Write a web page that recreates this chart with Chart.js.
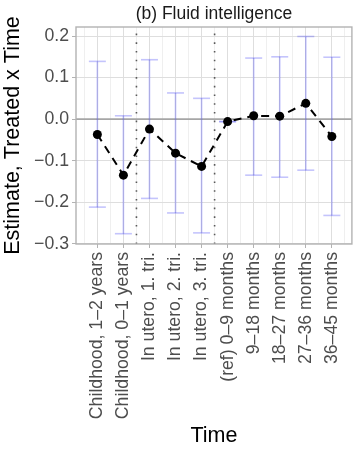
<!DOCTYPE html>
<html>
<head>
<meta charset="utf-8">
<script src="https://cdn.jsdelivr.net/npm/chart.js@4.4.0/dist/chart.umd.min.js"></script>
<style>
  html, body { margin: 0; padding: 0; background: #fff; }
  canvas { display: block; }
</style>
</head>
<body>
<canvas id="c" width="362" height="449"></canvas>
<script>
// Event-study coefficients for fluid intelligence, with 95% intervals
const categories = [
  "Childhood, 1–2 years", "Childhood, 0–1 years",
  "In utero, 1. tri.", "In utero, 2. tri.", "In utero, 3. tri.",
  "(ref) 0–9 months", "9–18 months", "18–27 months", "27–36 months", "36–45 months"
];
const estimates = [-0.037, -0.135, -0.024, -0.082, -0.114, -0.006, 0.008, 0.007, 0.038, -0.042];
const ciUpper   = [ 0.139,  0.008,  0.143,  0.063,  0.050, -0.006, 0.147, 0.150, 0.199,  0.149];
const ciLower   = [-0.212, -0.276, -0.191, -0.226, -0.274, -0.006, -0.135, -0.140, -0.123, -0.232];
const yTicks = [-0.3, -0.25, -0.2, -0.15, -0.1, -0.05, 0, 0.05, 0.1, 0.15, 0.2];
const yLabelTicks = [-0.3, -0.2, -0.1, 0, 0.1, 0.2];

const FONT = '"Liberation Sans", Arial, Helvetica, sans-serif';
const BAR_COLOR = 'rgba(70, 70, 245, 0.32)';

// group of each period: a dotted separator is drawn where the group changes
function groupOf(label) {
  if (label.startsWith('Childhood')) return 'childhood';
  if (label.startsWith('In utero')) return 'utero';
  return 'after';
}

const isMajorY = v => yLabelTicks.some(t => Math.abs(t - v) < 1e-9);
const isMajorX = v => Math.abs(v - Math.round(v)) < 1e-9;

const barData = [];
const capData = [];
categories.forEach((c, i) => {
  barData.push({ x: i, y: ciLower[i] }, { x: i, y: ciUpper[i] }, { x: i, y: null });
  capData.push({ x: i, y: ciLower[i] }, { x: i, y: ciUpper[i] });
});
const pointData = estimates.map((v, i) => ({ x: i, y: v }));

const panelDecor = {
  id: 'panelDecor',
  beforeDatasetsDraw(chart) {
    const { ctx, chartArea: a, scales: { x, y } } = chart;
    ctx.save();
    // reference line at zero
    const y0 = y.getPixelForValue(0);
    ctx.strokeStyle = '#a6a6a6';
    ctx.lineWidth = 1.6;
    ctx.beginPath(); ctx.moveTo(a.left, y0); ctx.lineTo(a.right, y0); ctx.stroke();
    // dotted separators between period groups
    ctx.strokeStyle = '#5a5a5a';
    ctx.lineWidth = 1.6;
    ctx.setLineDash([1.6, 7.1]);
    for (let i = 1; i < categories.length; i++) {
      if (groupOf(categories[i]) !== groupOf(categories[i - 1])) {
        const px = x.getPixelForValue(i - 0.5);
        ctx.beginPath(); ctx.moveTo(px, a.bottom); ctx.lineTo(px, a.top); ctx.stroke();
      }
    }
    ctx.restore();
  },
  afterDraw(chart) {
    const { ctx, chartArea: a } = chart;
    ctx.save();
    ctx.strokeStyle = '#b3b3b3';
    ctx.lineWidth = 1.4;
    ctx.strokeRect(a.left, a.top, a.right - a.left, a.bottom - a.top);
    // panel title
    ctx.fillStyle = '#1a1a1a';
    ctx.font = '17.5px ' + FONT;
    ctx.textAlign = 'center';
    ctx.textBaseline = 'alphabetic';
    ctx.fillText('(b) Fluid intelligence', (a.left + a.right) / 2, 18.5);
    ctx.restore();
  }
};

new Chart(document.getElementById('c'), {
  type: 'line',
  data: {
    datasets: [
      {
        data: barData, borderColor: BAR_COLOR, borderWidth: 1.6,
        pointRadius: 0, spanGaps: false, order: 3
      },
      {
        data: capData, showLine: false, pointStyle: 'line', pointRadius: 8.5,
        pointBorderColor: BAR_COLOR, pointBorderWidth: 1.6, order: 2
      },
      {
        data: pointData, borderColor: '#000', borderWidth: 2, borderDash: [8, 6],
        tension: 0, pointRadius: 4.5, pointBackgroundColor: '#000',
        pointBorderColor: '#000', pointBorderWidth: 0, order: 1
      }
    ]
  },
  options: {
    responsive: false,
    animation: false,
    devicePixelRatio: 1,
    layout: { padding: { top: 27, right: 2, left: 0, bottom: 0 } },
    plugins: { legend: { display: false }, tooltip: { enabled: false } },
    scales: {
      x: {
        type: 'linear',
        min: -0.82, max: 9.77,
        afterBuildTicks(axis) {
          const t = [];
          for (let i = -1; i < categories.length; i++) {
            if (i >= 0) t.push({ value: i });
            t.push({ value: i + 0.5 });
          }
          axis.ticks = t;
        },
        afterFit(axis) {
          axis.height = 205;
          axis.paddingLeft = 0;
          axis.paddingRight = 0;
        },
        ticks: {
          autoSkip: false, minRotation: 90, maxRotation: 90, padding: 4,
          color: '#4d4d4d', font: { family: FONT, size: 17.7 },
          callback: v => isMajorX(v) ? categories[Math.round(v)] : ''
        },
        grid: {
          color: c => isMajorX(c.tick.value) ? '#dedede' : '#efefef',
          lineWidth: 1,
          tickColor: c => isMajorX(c.tick.value) ? '#b3b3b3' : 'rgba(0,0,0,0)',
          tickLength: 4
        },
        border: { display: false },
        title: {
          display: true, text: 'Time', color: '#000',
          font: { family: FONT, size: 21.5 }, padding: { top: 0, bottom: 0 }
        }
      },
      y: {
        type: 'linear',
        min: -0.3008, max: 0.2218,
        afterBuildTicks(axis) { axis.ticks = yTicks.map(v => ({ value: v })); },
        afterFit(axis) {
          axis.width = 76;
          axis.paddingTop = 0;
          axis.paddingBottom = 0;
        },
        ticks: {
          padding: 3, color: '#4d4d4d', font: { family: FONT, size: 17.7 },
          callback: v => isMajorY(v) ? v.toFixed(1).replace('-', '\u2212') : ''
        },
        grid: {
          color: c => isMajorY(c.tick.value) ? '#dedede' : '#efefef',
          lineWidth: 1,
          tickColor: c => isMajorY(c.tick.value) ? '#b3b3b3' : 'rgba(0,0,0,0)',
          tickLength: 4
        },
        border: { display: false },
        title: {
          display: true, text: 'Estimate, Treated x Time', color: '#000',
          font: { family: FONT, size: 21.5 }, padding: { top: 0, bottom: 0 }
        }
      }
    }
  },
  plugins: [panelDecor]
});
</script>
</body>
</html>
